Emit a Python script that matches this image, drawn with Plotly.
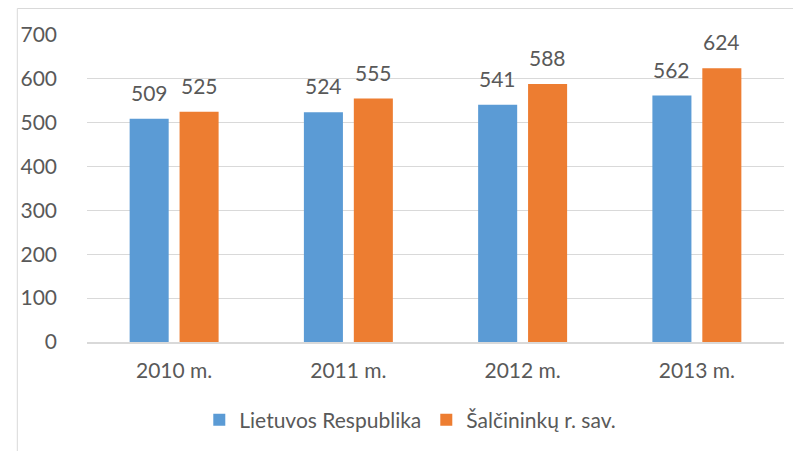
import plotly.graph_objects as go

categories = ["2010 m.", "2011 m.", "2012 m.", "2013 m."]
series_names = ["Lietuvos Respublika", "Šalčininkų r. sav."]
lr_values = [509, 524, 541, 562]
sal_values = [525, 555, 588, 624]
y_ticks = [0, 100, 200, 300, 400, 500, 600, 700]

colors = ["#5B9BD5", "#ED7D31"]
FONT = "Lato"
TXT = "#595959"
FS = 21

# page body has an 8px margin, so figure coords = window coords - 8
W, H = 801, 451
L, T = 71, 27
pw, ph = 705, 307
R = W - L - pw
B = H - T - ph

fig = go.Figure()
for name, vals, col in zip(series_names, [lr_values, sal_values], colors):
    fig.add_trace(go.Bar(name=name, x=categories, y=vals, marker=dict(color=col, line=dict(width=0))))

# data labels
cat_w = pw / len(categories)
offsets = [-0.142 * cat_w, 0.142 * cat_w]
annotations = []
for vals, off in zip([lr_values, sal_values], offsets):
    for c, v in zip(categories, vals):
        annotations.append(dict(x=c, y=v, xref="x", yref="y", text=str(v), showarrow=False,
                                xshift=off, yanchor="bottom", yshift=12,
                                font=dict(family=FONT, size=FS, color=TXT)))

# outer chart frame
fig.add_shape(type="rect", xref="paper", yref="paper",
              x0=(0.5 - L) / pw, x1=(W + 40 - L) / pw,
              y0=-1.0, y1=(ph + T - 0.5) / ph,
              line=dict(color="#D9D9D9", width=1), fillcolor="rgba(0,0,0,0)", layer="below")

fig.update_layout(
    width=W, height=H,
    margin=dict(l=L, r=R, t=T, b=B, pad=0),
    paper_bgcolor="white", plot_bgcolor="white",
    barmode="group", bargap=0.427, bargroupgap=0.218,
    font=dict(family=FONT, size=FS, color=TXT),
    annotations=annotations,
    showlegend=True,
    legend=dict(orientation="h", x=(398 - L) / pw, xanchor="center",
                y=(ph + T - 412) / ph, yanchor="middle",
                font=dict(family=FONT, size=FS, color=TXT), itemsizing="constant"),
    xaxis=dict(showgrid=False, showline=True, linecolor="#D9D9D9", linewidth=1.5,
               ticks="", ticklabelstandoff=9, tickfont=dict(family=FONT, size=FS, color=TXT)),
    yaxis=dict(range=[0, 700], tickvals=y_ticks, showgrid=True, gridcolor="#D9D9D9", gridwidth=1,
               zeroline=False, showline=False, ticks="", ticklabelstandoff=29,
               tickfont=dict(family=FONT, size=FS, color=TXT)),
)

fig.write_html("out.html")
